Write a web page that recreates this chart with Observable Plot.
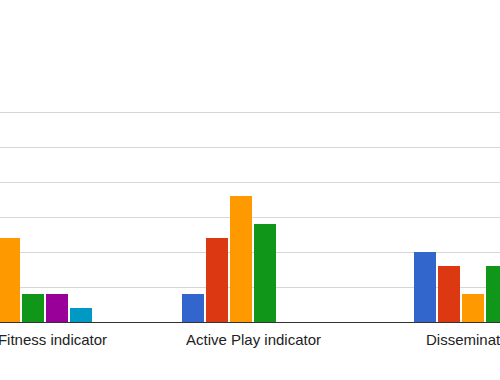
<!DOCTYPE html>
<html>
<head>
<meta charset="utf-8">
<script src="https://cdn.jsdelivr.net/npm/d3@7"></script>
<script src="https://cdn.jsdelivr.net/npm/@observablehq/plot@0.6"></script>
<style>
  html, body { margin: 0; padding: 0; background: #fff; }
  #frame { position: relative; width: 500px; height: 380px; overflow: hidden; }
  #frame svg { position: absolute; top: 0; left: -95.8px; max-width: none !important; width: 698px !important; height: 380px !important; }
</style>
</head>
<body>
<div id="frame"></div>
<script>
// Groups (x-axis categories)
const categories = ["Fitness indicator", "Active Play indicator", "Dissemination indicator"];
// Series (six bars per group)
const seriesNames = ["Series 1", "Series 2", "Series 3", "Series 4", "Series 5", "Series 6"];
const seriesColors = ["#3366cc", "#dc3912", "#ff9900", "#109618", "#990099", "#0099c6"];
// Values per group, in series order (null = outside the visible crop)
const fitnessValues = [null, null, 12, 4, 4, 2];
const activePlayValues = [4, 12, 18, 14, 0, 0];
const disseminationValues = [10, 8, 4, 8, null, null];
// Gridline values
const gridTicks = [5, 10, 15, 20, 25, 30];

const groupValues = [fitnessValues, activePlayValues, disseminationValues];
const table = [];
categories.forEach((g, gi) => {
  seriesNames.forEach((s, si) => {
    const v = groupValues[gi][si];
    if (v != null && v > 0) table.push({group: g, series: s, value: v});
  });
});

const axisStyle = {anchor: "bottom", tickSize: 0, tickPadding: 12, label: null, fontSize: 15, fill: "#222"};

const chart = Plot.plot({
  width: 698,
  height: 380,
  marginTop: 112,
  marginBottom: 58,
  marginLeft: 0,
  marginRight: 0,
  style: {fontFamily: "Arial, 'Liberation Sans', sans-serif", fontSize: "15px", color: "#222", background: "#fff"},
  fx: {domain: categories, padding: 0, label: null},
  x: {domain: seriesNames, paddingInner: 0.063, paddingOuter: 1.833, axis: null},
  y: {domain: [0, 30], axis: null},
  color: {domain: seriesNames, range: seriesColors},
  marks: [
    Plot.gridY(gridTicks, {stroke: "#d6d6d6", strokeOpacity: 1}),
    Plot.barY(table, {fx: "group", x: "series", y: "value", fill: "series"}),
    Plot.ruleY([0], {stroke: "#333", strokeWidth: 1}),
    Plot.axisFx({...axisStyle, ticks: [categories[0]], dx: 31}),
    Plot.axisFx({...axisStyle, ticks: [categories[1]]}),
    Plot.axisFx({...axisStyle, ticks: [categories[2]], dx: 18})
  ]
});

document.getElementById("frame").appendChild(chart);
</script>
</body>
</html>
